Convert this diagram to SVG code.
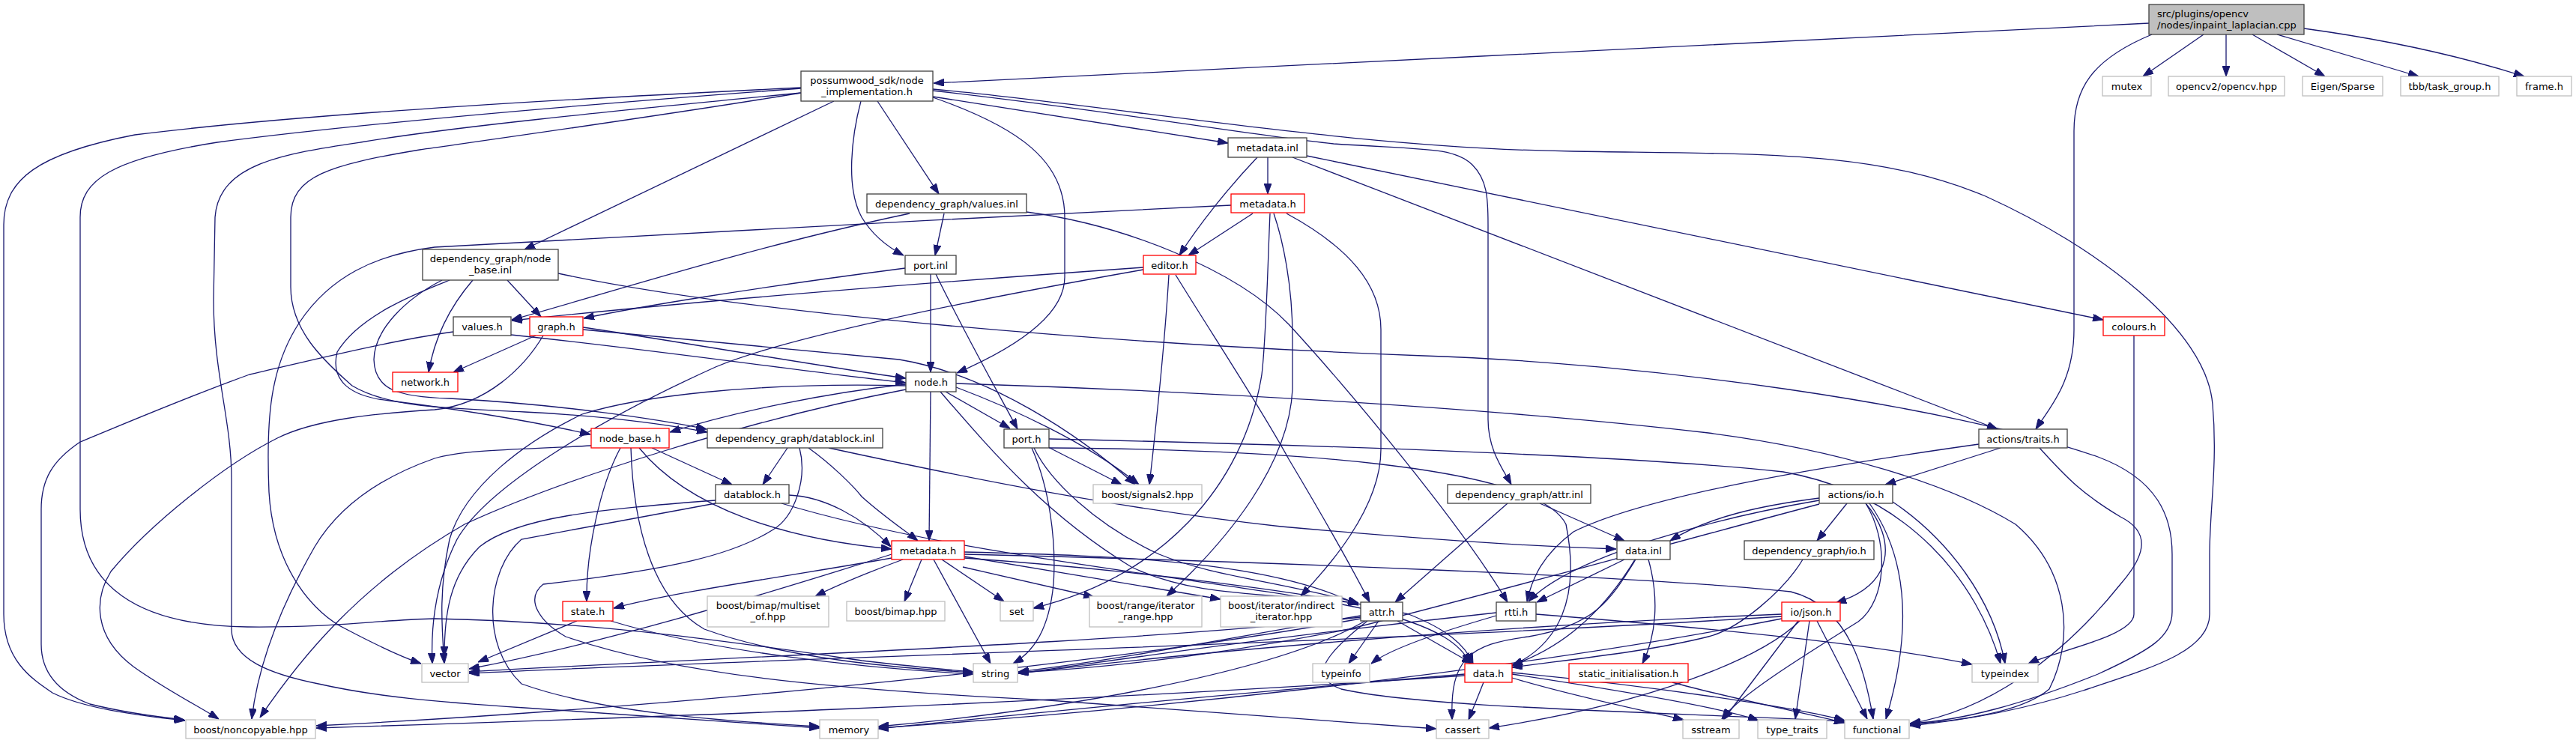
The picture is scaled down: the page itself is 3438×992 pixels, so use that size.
<svg xmlns="http://www.w3.org/2000/svg" width="3438" height="992" viewBox="0 0 3438 992">
<style>
text{font-family:"DejaVu Sans","Liberation Sans",sans-serif;font-size:13px;fill:#000;text-anchor:middle}
text.l{text-anchor:start}
rect{fill:#fff;stroke-width:1.3}
.b{stroke:#404040}.g{stroke:#bfbfbf}.r{stroke:#ff0000}
.root{fill:#bfbfbf;stroke:#404040}
#edges path{fill:none;stroke:#191970;stroke-width:1.3;marker-end:url(#a)}
</style>
<defs><marker id="a" markerWidth="14" markerHeight="10" refX="14" refY="5" orient="auto" markerUnits="userSpaceOnUse"><path d="M0,0 L14,5 L0,10 z" fill="#191970" stroke="#191970" stroke-width="1"/></marker></defs>
<rect x="0" y="0" width="3438" height="992" style="fill:#fff;stroke:none"/>
<g id="edges">
<path d="M2868,31 C2400,52 1750,88 1246,111"/>
<path d="M2941,46 L2860,102"/>
<path d="M2971,46 L2971,102"/>
<path d="M3006,46 L3103,102"/>
<path d="M3039,46 L3228,102"/>
<path d="M3075,38 C3200,55 3300,80 3369,102"/>
<path d="M2872,46 C2790,80 2768,120 2768,175 L2768,440 C2768,510 2735,545 2717,573"/>
<path d="M1245,129 L1639,191"/>
<path d="M1171,135 L1253,259"/>
<path d="M1149,135 C1137,180 1128,250 1150,290 C1165,315 1185,330 1206,341"/>
<path d="M1245,130 C1360,170 1421,215 1421,290 L1421,370 C1421,430 1330,475 1277,498"/>
<path d="M1113,135 L700,333"/>
<path d="M1245,121 C1500,150 1650,178 1780,192 C1900,200 1940,196 1965,220 C1985,240 1986,265 1986,300 L1986,560 C1986,600 2005,625 2017,647"/>
<path d="M1245,119 C1500,142 1800,198 2100,202 C2350,206 2500,200 2650,262 C2800,330 2945,440 2953,540 C2960,620 2949,680 2949,740 L2949,820 C2949,870 2870,892 2780,922 C2700,948 2620,962 2549,969"/>
<path d="M1069,117 C800,130 420,150 180,180 C50,205 5,240 5,300 L5,820 C5,880 40,905 70,925 C110,945 180,955 247,962"/>
<path d="M1069,118 C800,138 480,165 290,190 C150,212 107,240 107,290 L107,680 C107,780 180,835 330,837 C450,838 500,828 580,826 C800,830 1000,860 1150,882 C1220,890 1260,894 1299,897"/>
<path d="M1069,124 C800,150 600,170 481,190 C380,205 292,218 287,290 L285,400 C285,500 309,560 309,640 L309,840 C309,880 360,900 425,913 C500,930 580,937 700,945 C850,955 1000,965 1094,972"/>
<path d="M1069,124 C900,152 700,180 560,200 C440,220 388,235 388,290 L388,383 C388,440 430,480 470,515 C520,545 600,545 700,550 C800,555 880,565 944,577"/>
<path d="M1678,210 C1640,250 1600,300 1574,341"/>
<path d="M1692,210 L1692,259"/>
<path d="M1744,208 L2807,427"/>
<path d="M1725,210 L2666,573"/>
<path d="M1260,285 L1248,341"/>
<path d="M1214,285 C1000,330 800,395 683,427"/>
<path d="M1370,283 C1500,300 1650,360 1720,433 C1800,520 1950,700 2012,804"/>
<path d="M1672,285 L1586,341"/>
<path d="M1695,285 C1692,350 1690,450 1684,500 C1660,650 1550,770 1379,812"/>
<path d="M1700,285 C1712,320 1725,380 1725,450 L1725,520 C1720,620 1640,720 1557,796"/>
<path d="M1717,285 C1800,330 1843,380 1843,440 L1843,600 C1843,680 1770,760 1736,796"/>
<path d="M1643,274 C1300,290 800,318 580,330 C500,340 440,370 400,430 C360,490 355,560 359,657 C365,760 420,820 462,840 C500,860 530,875 562,886"/>
<path d="M682,447 C900,470 1100,500 1209,511"/>
<path d="M605,443 C520,455 420,480 333,500 C250,530 180,560 107,590 C70,615 55,640 55,680 L55,860 C55,900 80,925 120,940 C160,950 200,956 246,961"/>
<path d="M677,374 L722,423"/>
<path d="M631,374 C600,410 580,450 572,497"/>
<path d="M600,374 C560,390 480,420 450,470 C440,510 470,530 520,535 C600,545 700,560 788,580"/>
<path d="M590,374 C540,400 500,440 499,480 C500,520 530,530 600,532 C750,540 880,560 943,573"/>
<path d="M745,365 C1000,420 1500,460 1900,475 C2200,485 2600,540 2800,610 C2880,640 2899,690 2899,740 L2899,817 C2899,850 2870,868 2800,900 C2700,940 2620,962 2549,966"/>
<path d="M1242,366 L1242,497"/>
<path d="M1249,366 C1290,450 1330,520 1358,573"/>
<path d="M1208,358 C1000,385 850,410 779,425"/>
<path d="M1526,357 C1200,380 900,405 683,428"/>
<path d="M1560,367 C1555,450 1545,550 1534,647"/>
<path d="M1569,367 C1620,450 1680,540 1720,613 C1760,680 1800,750 1828,804"/>
<path d="M1526,360 C1300,400 1050,450 955,490 C800,560 650,650 610,720 C580,780 575,840 577,886"/>
<path d="M715,448 L605,497"/>
<path d="M725,448 C700,490 650,540 580,547 C500,552 420,560 370,585 C300,620 200,700 148,763 C125,800 125,850 178,890 C220,920 260,940 292,960"/>
<path d="M778,437 C900,455 1100,490 1209,505"/>
<path d="M778,440 C950,455 1100,470 1200,480 C1320,500 1440,580 1515,647"/>
<path d="M1209,513 C1100,525 980,550 894,577"/>
<path d="M1262,523 L1348,572"/>
<path d="M1242,523 L1240,722"/>
<path d="M1276,517 C1350,545 1450,590 1520,647"/>
<path d="M1255,523 C1330,610 1400,690 1510,757 C1600,800 1700,790 1813,806"/>
<path d="M1276,512 C1600,522 2000,545 2280,578 C2450,600 2600,645 2690,700 C2760,760 2770,850 2735,920 C2700,950 2620,962 2549,967"/>
<path d="M1209,515 C1000,510 850,530 777,553 C700,590 620,650 600,720 C585,790 590,840 593,886"/>
<path d="M1209,520 C1000,560 750,640 620,700 C480,780 400,880 347,958"/>
<path d="M828,598 C800,650 782,740 783,803"/>
<path d="M870,598 L977,647"/>
<path d="M853,598 C920,680 1050,720 1190,733"/>
<path d="M842,598 C845,700 870,800 940,840 C1050,880 1200,892 1299,898"/>
<path d="M789,595 C700,600 620,600 580,612 C500,640 450,680 420,730 C380,800 345,880 336,960"/>
<path d="M1051,598 L1018,647"/>
<path d="M1079,598 C1110,620 1140,650 1150,663 C1180,690 1210,710 1225,722"/>
<path d="M1067,598 C1078,640 1060,690 1032,707 C980,740 900,760 725,780 C700,800 720,830 755,850 C900,900 1100,920 1400,935 C1600,950 1800,965 1917,973"/>
<path d="M1106,598 C1300,640 1500,680 1710,703 C1900,720 2050,730 2157,733"/>
<path d="M1053,661 C1100,663 1150,690 1189,730"/>
<path d="M1043,672 C1300,750 1700,780 1850,820 C1920,840 1950,860 1962,886"/>
<path d="M955,668 C800,680 690,690 640,730 C600,770 593,820 593,877"/>
<path d="M955,672 L696,720 C650,760 640,860 696,913 C800,950 950,962 1094,970"/>
<path d="M1399,597 L1497,647"/>
<path d="M1377,598 C1400,650 1410,720 1406,780 C1400,840 1380,870 1352,886"/>
<path d="M1380,598 C1400,640 1460,700 1547,740 C1620,770 1700,775 1813,805"/>
<path d="M1400,586 C1800,595 2200,610 2380,630 C2550,660 2640,780 2670,886"/>
<path d="M1400,598 C1700,600 2050,620 2090,700 C2110,800 2080,860 2018,889"/>
<path d="M1230,747 L1207,803"/>
<path d="M1257,747 L1340,803"/>
<path d="M1246,747 L1322,886"/>
<path d="M1285,757 L1460,797"/>
<path d="M1287,743 L1629,800"/>
<path d="M1205,747 C1170,760 1120,780 1088,796"/>
<path d="M1190,745 C1050,770 900,790 819,812"/>
<path d="M1190,740 C1000,800 800,860 626,893"/>
<path d="M1287,737 C1500,742 1700,750 1813,808"/>
<path d="M1287,745 C1500,760 1750,790 1880,820 C1930,840 1955,860 1966,886"/>
<path d="M1287,740 C1700,750 2200,770 2390,790 C2470,810 2490,900 2500,960"/>
<path d="M770,829 L638,884"/>
<path d="M815,829 C950,870 1150,892 1299,900"/>
<path d="M1840,829 L1800,886"/>
<path d="M1865,829 L1965,886"/>
<path d="M1816,822 C1650,850 1500,880 1359,897"/>
<path d="M1816,824 C1500,860 900,880 626,897"/>
<path d="M1822,829 C1700,900 1400,950 1172,970"/>
<path d="M1825,829 C1760,880 1750,905 1790,920 C1900,945 2200,950 2462,963"/>
<path d="M1816,826 C1400,900 800,950 422,969"/>
<path d="M1997,822 C1900,850 1850,870 1830,886"/>
<path d="M1997,818 C1700,850 1500,880 1359,899"/>
<path d="M2050,820 C2300,840 2500,860 2632,887"/>
<path d="M1980,911 L1960,961"/>
<path d="M1955,900 C1600,930 1400,950 1172,973"/>
<path d="M1955,902 C1400,940 800,960 422,972"/>
<path d="M2018,905 C2100,930 2200,950 2247,961"/>
<path d="M2018,900 C2150,920 2300,945 2347,962"/>
<path d="M2018,898 C2200,915 2400,945 2462,962"/>
<path d="M2182,747 C2150,800 2100,860 2018,888"/>
<path d="M2168,747 L2051,804"/>
<path d="M2200,747 C2215,800 2210,850 2192,886"/>
<path d="M2183,747 C2150,800 2130,835 2040,850 C1960,860 1935,880 1938,961"/>
<path d="M2012,672 L1862,804"/>
<path d="M2055,672 L2168,722"/>
<path d="M2232,911 C2300,930 2400,950 2462,965"/>
<path d="M2406,747 C2380,790 2320,840 2280,850 C2200,870 2100,880 2018,891"/>
<path d="M2465,672 L2425,722"/>
<path d="M2490,672 C2530,720 2530,780 2450,805"/>
<path d="M2495,672 C2550,750 2550,850 2517,960"/>
<path d="M2526,670 C2600,720 2660,800 2676,886"/>
<path d="M2428,665 C2350,675 2280,690 2229,722"/>
<path d="M2428,668 C2300,690 2100,740 2040,803"/>
<path d="M2428,673 C2250,720 2000,790 1800,840 C1600,880 1450,893 1359,898"/>
<path d="M2490,672 C2520,720 2520,800 2480,830 C2400,880 2320,930 2298,960"/>
<path d="M2670,598 L2516,647"/>
<path d="M2641,593 C2450,620 2200,660 2100,710 C2060,740 2045,770 2038,803"/>
<path d="M2722,598 C2760,640 2780,660 2830,690 C2870,710 2865,740 2830,780 C2750,880 2650,950 2549,966"/>
<path d="M2400,829 L2300,961"/>
<path d="M2415,829 L2396,960"/>
<path d="M2425,829 L2492,960"/>
<path d="M2378,820 C2000,835 1600,870 1359,899"/>
<path d="M2378,823 C1800,860 1000,880 626,899"/>
<path d="M2402,829 C2350,880 2200,940 1987,972"/>
<path d="M2378,826 C2000,900 1500,950 1172,972"/>
<path d="M2848,448 L2848,820 C2848,850 2740,870 2707,886"/>
</g>
<g id="n_root"><rect class="root" x="2868" y="6" width="207" height="40"/><text class="l" x="2879" y="22.5">src/plugins/opencv</text><text class="l" x="2879" y="37.5">/nodes/inpaint_laplacian.cpp</text></g>
<g id="n_mutex"><rect class="g" x="2806" y="102" width="65" height="26"/><text x="2838.5" y="119.5">mutex</text></g>
<g id="n_opencv"><rect class="g" x="2894" y="102" width="155" height="26"/><text x="2971.5" y="119.5">opencv2/opencv.hpp</text></g>
<g id="n_eigen"><rect class="g" x="3073" y="102" width="107" height="26"/><text x="3126.5" y="119.5">Eigen/Sparse</text></g>
<g id="n_tbb"><rect class="g" x="3204" y="102" width="131" height="26"/><text x="3269.5" y="119.5">tbb/task_group.h</text></g>
<g id="n_frame"><rect class="g" x="3359" y="102" width="73" height="26"/><text x="3395.5" y="119.5">frame.h</text></g>
<g id="n_node_impl"><rect class="b" x="1069" y="95" width="176" height="40"/><text x="1157" y="111.5">possumwood_sdk/node</text><text x="1157" y="126.5">_implementation.h</text></g>
<g id="n_metadata_inl"><rect class="b" x="1639" y="184" width="105" height="26"/><text x="1691.5" y="201.5">metadata.inl</text></g>
<g id="n_values_inl"><rect class="b" x="1157" y="259" width="213" height="25"/><text x="1263.5" y="276.5">dependency_graph/values.inl</text></g>
<g id="n_metadata_h_sdk"><rect class="r" x="1643" y="259" width="98" height="25"/><text x="1692" y="276.5">metadata.h</text></g>
<g id="n_node_base_inl"><rect class="b" x="564" y="333" width="181" height="41"/><text x="654.5" y="349.5">dependency_graph/node</text><text x="654.5" y="364.5">_base.inl</text></g>
<g id="n_port_inl"><rect class="b" x="1208" y="341" width="68" height="25"/><text x="1242" y="358.5">port.inl</text></g>
<g id="n_editor"><rect class="r" x="1526" y="341" width="70" height="25"/><text x="1561" y="358.5">editor.h</text></g>
<g id="n_values_h"><rect class="b" x="605" y="423" width="77" height="25"/><text x="643.5" y="440.5">values.h</text></g>
<g id="n_graph"><rect class="r" x="707" y="423" width="71" height="25"/><text x="742.5" y="440.5">graph.h</text></g>
<g id="n_colours"><rect class="r" x="2807" y="423" width="82" height="25"/><text x="2848" y="440.5">colours.h</text></g>
<g id="n_network"><rect class="r" x="524" y="497" width="87" height="26"/><text x="567.5" y="514.5">network.h</text></g>
<g id="n_node_h"><rect class="b" x="1209" y="497" width="67" height="26"/><text x="1242.5" y="514.5">node.h</text></g>
<g id="n_node_base_h"><rect class="r" x="789" y="572" width="104" height="26"/><text x="841" y="589.5">node_base.h</text></g>
<g id="n_datablock_inl"><rect class="b" x="944" y="572" width="234" height="26"/><text x="1061" y="589.5">dependency_graph/datablock.inl</text></g>
<g id="n_port_h"><rect class="b" x="1340" y="573" width="60" height="25"/><text x="1370" y="590.5">port.h</text></g>
<g id="n_traits"><rect class="b" x="2641" y="573" width="118" height="25"/><text x="2700" y="590.5">actions/traits.h</text></g>
<g id="n_datablock_h"><rect class="b" x="955" y="647" width="98" height="25"/><text x="1004" y="664.5">datablock.h</text></g>
<g id="n_signals2"><rect class="g" x="1459" y="647" width="145" height="25"/><text x="1531.5" y="664.5">boost/signals2.hpp</text></g>
<g id="n_attr_inl"><rect class="b" x="1932" y="647" width="191" height="25"/><text x="2027.5" y="664.5">dependency_graph/attr.inl</text></g>
<g id="n_actions_io"><rect class="b" x="2428" y="647" width="98" height="25"/><text x="2477" y="664.5">actions/io.h</text></g>
<g id="n_metadata_h_dg"><rect class="r" x="1190" y="722" width="97" height="25"/><text x="1238.5" y="739.5">metadata.h</text></g>
<g id="n_data_inl"><rect class="b" x="2158" y="722" width="71" height="25"/><text x="2193.5" y="739.5">data.inl</text></g>
<g id="n_dg_io"><rect class="b" x="2328" y="722" width="173" height="25"/><text x="2414.5" y="739.5">dependency_graph/io.h</text></g>
<g id="n_state"><rect class="r" x="751" y="803" width="67" height="26"/><text x="784.5" y="820.5">state.h</text></g>
<g id="n_multiset"><rect class="g" x="944" y="796" width="162" height="41"/><text x="1025" y="812.5">boost/bimap/multiset</text><text x="1025" y="827.5">_of.hpp</text></g>
<g id="n_bimap"><rect class="g" x="1130" y="803" width="131" height="26"/><text x="1195.5" y="820.5">boost/bimap.hpp</text></g>
<g id="n_set"><rect class="g" x="1335" y="803" width="44" height="26"/><text x="1357" y="820.5">set</text></g>
<g id="n_iter_range"><rect class="g" x="1454" y="796" width="150" height="41"/><text x="1529" y="812.5">boost/range/iterator</text><text x="1529" y="827.5">_range.hpp</text></g>
<g id="n_indirect"><rect class="g" x="1629" y="796" width="162" height="41"/><text x="1710" y="812.5">boost/iterator/indirect</text><text x="1710" y="827.5">_iterator.hpp</text></g>
<g id="n_attr_h"><rect class="b" x="1816" y="804" width="56" height="25"/><text x="1844" y="821.5">attr.h</text></g>
<g id="n_rtti"><rect class="b" x="1997" y="804" width="53" height="25"/><text x="2023.5" y="821.5">rtti.h</text></g>
<g id="n_json"><rect class="r" x="2378" y="804" width="78" height="25"/><text x="2417" y="821.5">io/json.h</text></g>
<g id="n_vector"><rect class="g" x="563" y="886" width="62" height="25"/><text x="594" y="903.5">vector</text></g>
<g id="n_string"><rect class="g" x="1299" y="886" width="59" height="25"/><text x="1328.5" y="903.5">string</text></g>
<g id="n_typeinfo"><rect class="g" x="1752" y="886" width="76" height="25"/><text x="1790" y="903.5">typeinfo</text></g>
<g id="n_data_h"><rect class="r" x="1955" y="886" width="63" height="25"/><text x="1986.5" y="903.5">data.h</text></g>
<g id="n_static_init"><rect class="r" x="2094" y="886" width="159" height="25"/><text x="2173.5" y="903.5">static_initialisation.h</text></g>
<g id="n_typeindex"><rect class="g" x="2632" y="886" width="88" height="25"/><text x="2676" y="903.5">typeindex</text></g>
<g id="n_noncopyable"><rect class="g" x="248" y="961" width="173" height="25"/><text x="334.5" y="978.5">boost/noncopyable.hpp</text></g>
<g id="n_memory"><rect class="g" x="1094" y="961" width="78" height="25"/><text x="1133" y="978.5">memory</text></g>
<g id="n_cassert"><rect class="g" x="1917" y="961" width="70" height="25"/><text x="1952" y="978.5">cassert</text></g>
<g id="n_sstream"><rect class="g" x="2246" y="961" width="75" height="25"/><text x="2283.5" y="978.5">sstream</text></g>
<g id="n_type_traits"><rect class="g" x="2346" y="961" width="92" height="25"/><text x="2392" y="978.5">type_traits</text></g>
<g id="n_functional"><rect class="g" x="2462" y="961" width="86" height="25"/><text x="2505" y="978.5">functional</text></g>
</svg>
